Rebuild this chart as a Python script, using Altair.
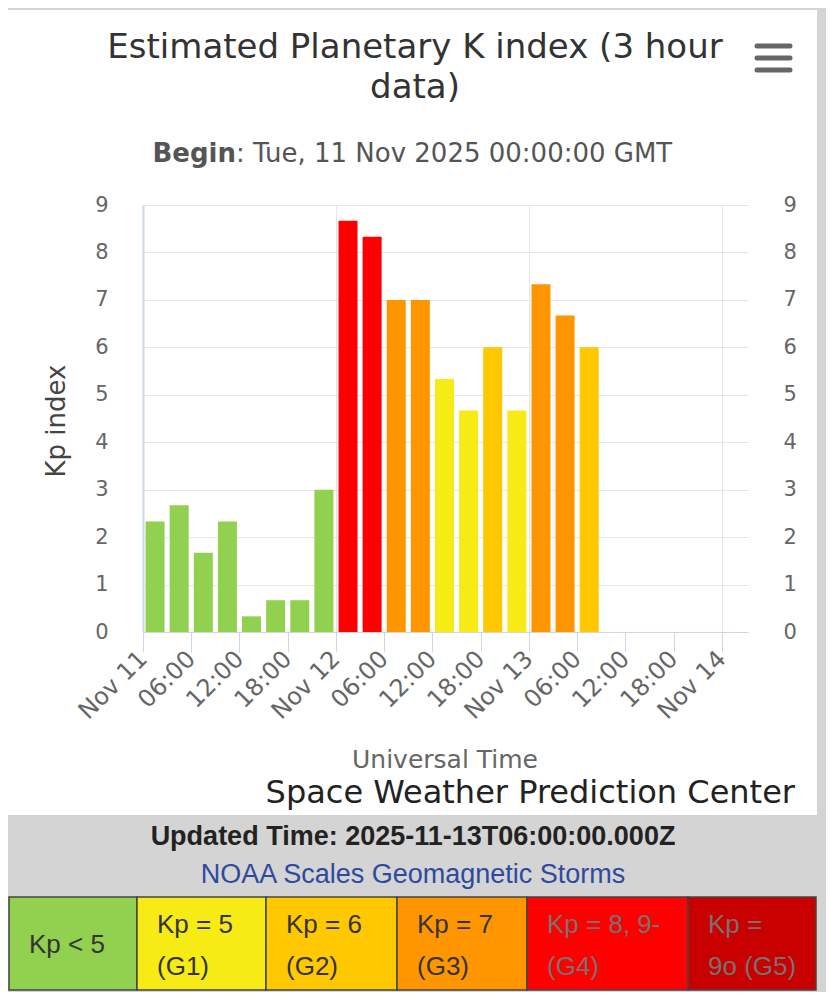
import altair as alt
import pandas as pd

# ---------------- data ----------------
start_times = [
    "2025-11-11T00:00:00Z", "2025-11-11T03:00:00Z", "2025-11-11T06:00:00Z",
    "2025-11-11T09:00:00Z", "2025-11-11T12:00:00Z", "2025-11-11T15:00:00Z",
    "2025-11-11T18:00:00Z", "2025-11-11T21:00:00Z", "2025-11-12T00:00:00Z",
    "2025-11-12T03:00:00Z", "2025-11-12T06:00:00Z", "2025-11-12T09:00:00Z",
    "2025-11-12T12:00:00Z", "2025-11-12T15:00:00Z", "2025-11-12T18:00:00Z",
    "2025-11-12T21:00:00Z", "2025-11-13T00:00:00Z", "2025-11-13T03:00:00Z",
    "2025-11-13T06:00:00Z",
]
kp_values = [2.33, 2.67, 1.67, 2.33, 0.33, 0.67, 0.67, 3.00, 8.67, 8.33,
             7.00, 7.00, 5.33, 4.67, 6.00, 4.67, 7.33, 6.67, 6.00]

x_tick_times = [
    "2025-11-11T00:00:00Z", "2025-11-11T06:00:00Z", "2025-11-11T12:00:00Z",
    "2025-11-11T18:00:00Z", "2025-11-12T00:00:00Z", "2025-11-12T06:00:00Z",
    "2025-11-12T12:00:00Z", "2025-11-12T18:00:00Z", "2025-11-13T00:00:00Z",
    "2025-11-13T06:00:00Z", "2025-11-13T12:00:00Z", "2025-11-13T18:00:00Z",
    "2025-11-14T00:00:00Z",
]
x_domain_times = ["2025-11-11T00:00:00Z", "2025-11-14T03:15:00Z"]
y_tick_values = [0, 1, 2, 3, 4, 5, 6, 7, 8, 9]

kp_thresholds = [4.5, 5.5, 6.5, 7.5, 8.8]
kp_colors = ["#92D050", "#F6EB14", "#FFC800", "#FF9600", "#FF0000", "#C80000"]

legend_line1 = ["Kp < 5", "Kp = 5", "Kp = 6", "Kp = 7", "Kp = 8, 9-", "Kp ="]
legend_line2 = ["", "(G1)", "(G2)", "(G3)", "(G4)", "9o (G5)"]

title_lines = ["Estimated Planetary K index (3 hour", "data)"]
subtitle_bold = "Begin"
subtitle_rest = ": Tue, 11 Nov 2025 00:00:00 GMT"
updated_text = "Updated Time: 2025-11-13T06:00:00.000Z"
noaa_text = "NOAA Scales Geomagnetic Storms"

# ---------------- layout ----------------
PW, PH = 605, 427
PAD = {"left": 135, "top": 197, "right": 78, "bottom": 360}
X0, X1 = -PAD["left"], PW + PAD["right"]
Y0, Y1 = -PAD["top"], PH + PAD["bottom"]
GRAY = "#d4d4d4"
FONT = "DejaVu Sans"
AFONT = "Liberation Sans"


def ms(s):
    return int(pd.Timestamp(s).value // 10**6)


df = pd.DataFrame({"start": start_times, "kp": kp_values})
one = pd.DataFrame({"k": [0]})

x_scale = alt.Scale(type="utc", domain=[ms(s) for s in x_domain_times], padding=0)
y_scale = alt.Scale(domain=[0, 9], nice=False, padding=0)

x_axis = alt.Axis(
    values=[ms(s) for s in x_tick_times],
    labelExpr="utchours(datum.value) == 0 ? utcFormat(datum.value, '%b %d') : utcFormat(datum.value, '%H:%M')",
    title=None, labelAngle=-45, labelAlign="right", labelBaseline="middle",
    labelFont=FONT, labelFontSize=24, labelColor="#666666", labelPadding=3,
    labelOverlap=False, tickSize=20, tickColor="#ccd6eb", domainColor="#ccd6eb",
    grid=True, gridColor="#e6e6e6",
    gridOpacity={"condition": {"test": "utchours(datum.value) === 0", "value": 1}, "value": 0},
)
left_axis = alt.Axis(
    values=y_tick_values, title=None, ticks=False, tickSize=0, labelPadding=35,
    labelFont=FONT, labelFontSize=21, labelColor="#666666",
    domainColor="#ccd6eb", domainWidth=2, grid=True, gridColor="#e6e6e6",
)
right_axis = alt.Axis(
    values=y_tick_values, title=None, orient="right", ticks=False, tickSize=0,
    labelPadding=35, labelAlign="left", labelFont=FONT, labelFontSize=21,
    labelColor="#666666", domain=False, grid=False,
)

base = alt.Chart(df).transform_calculate(mid="time(toDate(datum.start)) + 5400000")
bars = base.mark_bar(width=19).encode(
    x=alt.X("mid:T", scale=x_scale, axis=x_axis),
    y=alt.Y("kp:Q", scale=y_scale, axis=left_axis),
    color=alt.Color("kp:Q", scale=alt.Scale(type="threshold", domain=kp_thresholds, range=kp_colors), legend=None),
)
right = base.mark_point(opacity=0).encode(
    y=alt.Y("kp:Q", scale=y_scale, axis=right_axis),
)
plot = alt.layer(bars, right).resolve_axis(y="independent")


def rect(x, x2, y, y2, fill, stroke=None, sw=0):
    kw = {"fill": fill}
    if stroke:
        kw.update(stroke=stroke, strokeWidth=sw)
    return alt.Chart(one).mark_rect(**kw).encode(
        x=alt.value(x), x2=alt.value(x2), y=alt.value(y), y2=alt.value(y2))


def label(text, x, y, size, color="#333333", weight="normal", align="center",
          baseline="alphabetic", font=FONT, angle=0):
    return alt.Chart(one).mark_text(
        text=text, fontSize=size, color=color, fontWeight=weight, align=align,
        baseline=baseline, font=font, angle=angle,
    ).encode(x=alt.value(x), y=alt.value(y))


def bar_line(x, x2, y):
    return alt.Chart(one).mark_rule(color="#666666", strokeWidth=5, strokeCap="round").encode(
        x=alt.value(x), x2=alt.value(x2), y=alt.value(y))


layers = [
    rect(X0, X1, Y0, -195, GRAY),
    rect(674, X1, Y0, Y1, GRAY),
    rect(X0, X1, 610, Y1, GRAY),
    plot,
    label(title_lines[0], 272, -147, 34),
    label(title_lines[1], 272, -107, 34),
    label(subtitle_bold, 93, -43, 26, color="#555555", weight="bold", align="right"),
    label(subtitle_rest, 93, -43, 26, color="#555555", align="left"),
    label("Kp index", -86, 216, 26, color="#444444", baseline="middle", angle=270),
    label("Universal Time", 302, 563, 25, color="#666666"),
    label("Space Weather Prediction Center", 652, 598, 32, color="#222222", align="right"),
    label(updated_text, 270, 640, 27, color="#222222", weight="bold", font=AFONT),
    label(noaa_text, 270, 678, 27, color="#2e4a9e", font=AFONT),
    bar_line(614, 647, -159),
    bar_line(614, 647, -147),
    bar_line(614, 647, -135),
]

cell_edges = [-134, -6, 123, 254, 384, 545, 673]
tbl_top, tbl_bot = 692, 785
for i in range(6):
    layers.append(rect(cell_edges[i], cell_edges[i + 1], tbl_top, tbl_bot,
                       kp_colors[i], stroke="#444444", sw=1.5))
for i in range(6):
    tcol = "#333333" if i < 4 else "#7a7070"
    tx = cell_edges[i] + 20
    if legend_line2[i]:
        layers.append(label(legend_line1[i], tx, 720, 26, color=tcol, align="left",
                            baseline="middle", font=AFONT))
        layers.append(label(legend_line2[i], tx, 762, 26, color=tcol, align="left",
                            baseline="middle", font=AFONT))
    else:
        layers.append(label(legend_line1[i], tx, 740, 26, color=tcol, align="left",
                            baseline="middle", font=AFONT))

chart = alt.layer(*layers).properties(
    width=PW, height=PH, padding=PAD,
    autosize=alt.AutoSizeParams(type="none"), background="white",
).configure_view(stroke=None)

chart.save("out.html", embed_options={"renderer": "svg", "actions": False})
